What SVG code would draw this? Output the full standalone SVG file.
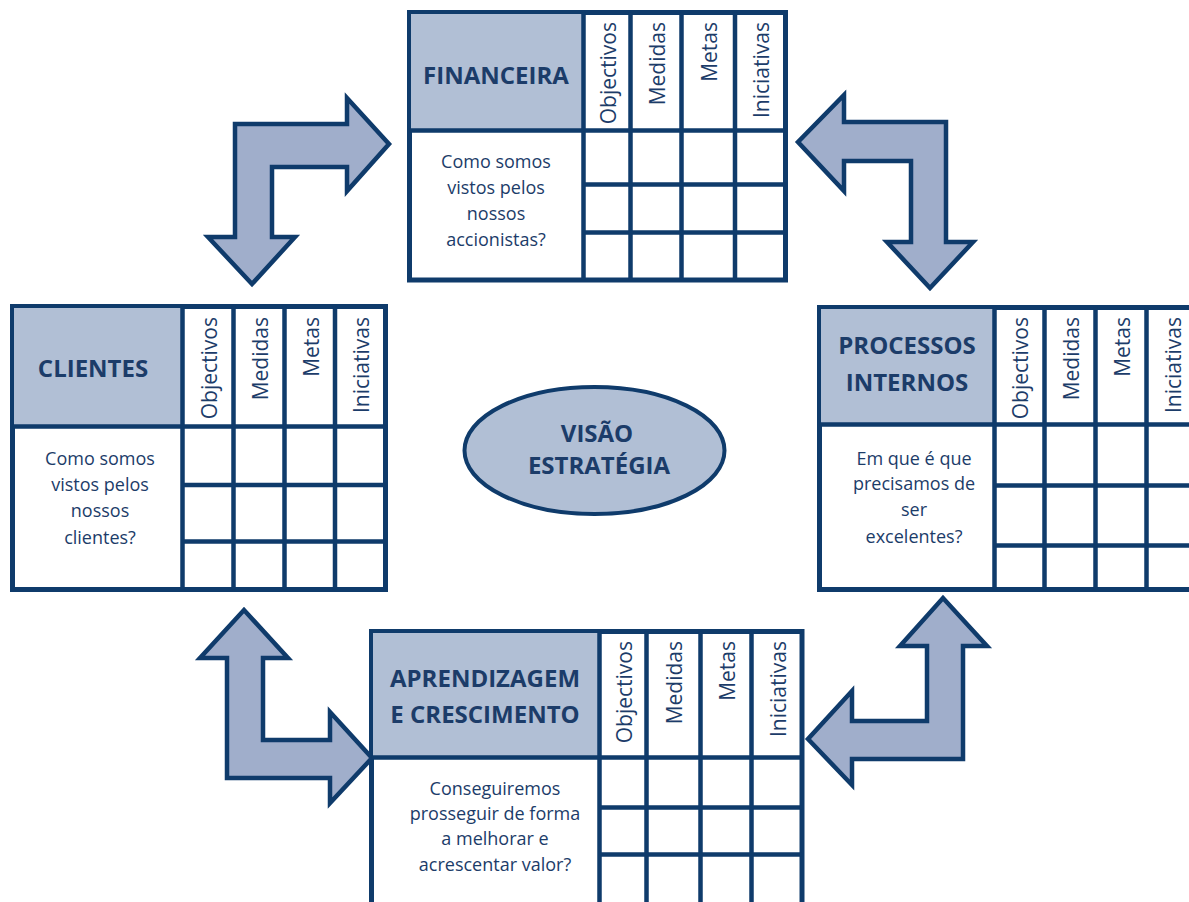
<svg xmlns="http://www.w3.org/2000/svg" width="1189" height="902" viewBox="0 0 1189 902">
  <style>
    .frame { fill: #ffffff; stroke: #0f3b6b; stroke-width: 5; }
    .head { fill: #b1bfd5; stroke: none; }
    .grid { stroke: #0f3b6b; stroke-width: 4.5; fill: none; }
    .title { font-family: "Open Sans", "Liberation Sans", sans-serif; font-weight: 700; font-size: 24px; fill: #1c3c69; text-anchor: middle; }
    .body { font-family: "Open Sans", "Liberation Sans", sans-serif; font-weight: 400; font-size: 18px; fill: #1c3c69; text-anchor: middle; }
    .col { font-family: "Open Sans", "Liberation Sans", sans-serif; font-weight: 400; font-size: 21px; fill: #1c3c69; text-anchor: end; }
    .arrow { fill: #a0aecb; stroke: #0f3b6b; stroke-width: 4.5; stroke-linejoin: miter; }
    .hub { fill: #b1bfd5; stroke: #0f3b6b; stroke-width: 4; }
  </style>
  <rect width="1189" height="902" fill="#ffffff"/>

  <!-- bent double-headed arrows linking the perspectives -->
  <g id="connectors">
    <path class="arrow" d="M235,124 L347,124 L347,98 L389,144 L347,191 L347,167 L272,167 L272,237 L295,237 L252,284 L208,237 L235,237 Z"/>
    <path class="arrow" d="M946,122 L844,122 L844,95 L798,142 L844,191 L844,161 L911,161 L911,242 L887,242 L930,288 L973,242 L946,242 Z"/>
    <path class="arrow" d="M227,778 L330,778 L330,803 L372,758 L330,712 L330,740 L263,740 L263,658 L288,658 L244,610 L200,658 L227,658 Z"/>
    <path class="arrow" d="M963,759 L852,759 L852,785 L808,739 L852,691 L852,721 L927,721 L927,646 L900,646 L943,598 L987,646 L963,646 Z"/>
  </g>

  <!-- Financeira -->
  <g id="financeira">
    <rect class="frame" x="409.5" y="12.5" width="376" height="267.5"/>
    <rect class="head" x="411" y="14" width="172.5" height="116.5"/>
    <path class="grid" d="M409.5,130.5 H785.5 M583.5,12.5 V280 M630.5,12.5 V280 M681.5,12.5 V280 M735,12.5 V280 M583.5,184.5 H785.5 M583.5,232.5 H785.5"/>
    <text class="title" x="496" y="84">FINANCEIRA</text>
    <text class="col" transform="translate(616,22) rotate(-90)">Objectivos</text>
    <text class="col" transform="translate(665,22) rotate(-90)">Medidas</text>
    <text class="col" transform="translate(717,22) rotate(-90)">Metas</text>
    <text class="col" transform="translate(769,22) rotate(-90)">Iniciativas</text>
    <text class="body" x="496" y="168">Como somos</text>
    <text class="body" x="496" y="194">vistos pelos</text>
    <text class="body" x="496" y="220">nossos</text>
    <text class="body" x="496" y="246">accionistas?</text>
  </g>

  <!-- Clientes -->
  <g id="clientes">
    <rect class="frame" x="12.5" y="306.5" width="373" height="283"/>
    <rect class="head" x="14" y="308" width="168.5" height="118.5"/>
    <path class="grid" d="M12.5,426.5 H385.5 M182.5,306.5 V589.5 M233.5,306.5 V589.5 M284.5,306.5 V589.5 M335,306.5 V589.5 M182.5,485 H385.5 M182.5,541.5 H385.5"/>
    <text class="title" x="93" y="377">CLIENTES</text>
    <text class="col" transform="translate(217,317) rotate(-90)">Objectivos</text>
    <text class="col" transform="translate(268,317) rotate(-90)">Medidas</text>
    <text class="col" transform="translate(319,317) rotate(-90)">Metas</text>
    <text class="col" transform="translate(369,317) rotate(-90)">Iniciativas</text>
    <text class="body" x="100" y="465">Como somos</text>
    <text class="body" x="100" y="491">vistos pelos</text>
    <text class="body" x="100" y="517">nossos</text>
    <text class="body" x="100" y="544">clientes?</text>
  </g>

  <!-- Processos internos -->
  <g id="processos">
    <rect class="frame" x="819.5" y="307.5" width="378" height="282"/>
    <rect class="head" x="821" y="309" width="173.5" height="115.5"/>
    <path class="grid" d="M819.5,424.5 H1197.5 M994.5,307.5 V589.5 M1044.5,307.5 V589.5 M1095.5,307.5 V589.5 M1146.5,307.5 V589.5 M994.5,485.5 H1197.5 M994.5,545.5 H1197.5"/>
    <text class="title" x="907" y="354">PROCESSOS</text>
    <text class="title" x="907" y="391">INTERNOS</text>
    <text class="col" transform="translate(1028,317) rotate(-90)">Objectivos</text>
    <text class="col" transform="translate(1079,317) rotate(-90)">Medidas</text>
    <text class="col" transform="translate(1130,317) rotate(-90)">Metas</text>
    <text class="col" transform="translate(1181,317) rotate(-90)">Iniciativas</text>
    <text class="body" x="914" y="465">Em que é que</text>
    <text class="body" x="914" y="490">precisamos de</text>
    <text class="body" x="914" y="516">ser</text>
    <text class="body" x="914" y="543">excelentes?</text>
  </g>

  <!-- Aprendizagem e crescimento -->
  <g id="aprendizagem">
    <rect class="frame" x="371.5" y="631.5" width="430.5" height="280"/>
    <rect class="head" x="373" y="633" width="226.5" height="124.5"/>
    <path class="grid" d="M371.5,757.5 H802 M599.5,631.5 V911.5 M646.5,631.5 V911.5 M700.5,631.5 V911.5 M751.5,631.5 V911.5 M599.5,807.5 H802 M599.5,854.5 H802"/>
    <text class="title" x="485" y="687">APRENDIZAGEM</text>
    <text class="title" x="485" y="723">E CRESCIMENTO</text>
    <text class="col" transform="translate(632,641) rotate(-90)">Objectivos</text>
    <text class="col" transform="translate(682,641) rotate(-90)">Medidas</text>
    <text class="col" transform="translate(735,641) rotate(-90)">Metas</text>
    <text class="col" transform="translate(786,641) rotate(-90)">Iniciativas</text>
    <text class="body" x="495" y="795">Conseguiremos</text>
    <text class="body" x="495" y="820">prosseguir de forma</text>
    <text class="body" x="495" y="845">a melhorar e</text>
    <text class="body" x="495" y="871">acrescentar valor?</text>
  </g>

  <!-- central vision -->
  <g id="visao">
    <ellipse class="hub" cx="594.5" cy="450.5" rx="130" ry="63.5"/>
    <text class="title" x="597" y="442">VISÃO</text>
    <text class="title" x="599" y="474">ESTRATÉGIA</text>
  </g>
</svg>
